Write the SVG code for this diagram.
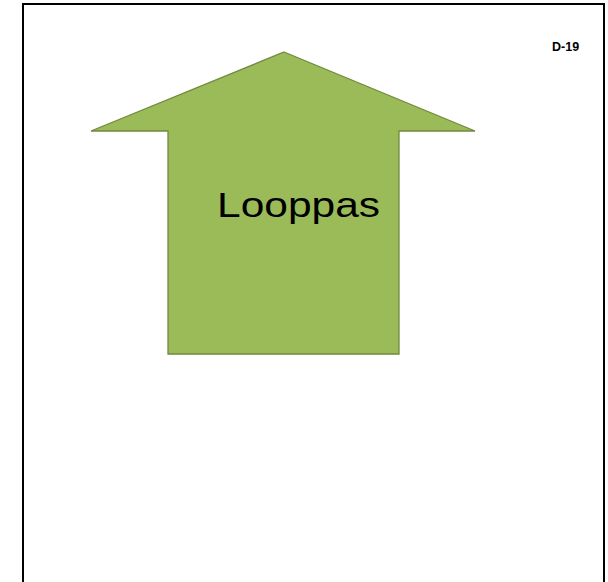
<svg xmlns="http://www.w3.org/2000/svg" width="608" height="582" viewBox="0 0 608 582">
<style>
.frame{fill:#ffffff;stroke:#000000;stroke-width:2}
.arrow{fill:#9BBB59;stroke:#71893F;stroke-width:1.3}
.lbl{font-family:"Liberation Sans",Arial,sans-serif;fill:#000000}
</style>
<rect width="608" height="582" fill="#ffffff"/>
<rect class="frame" x="23" y="4" width="581" height="584"/>
<g id="code">
<text class="lbl" x="552" y="51" font-size="12.5" font-weight="bold">D-19</text>
</g>
<g id="arrow-looppas">
<polygon class="arrow" points="284,52 475,131 399,131 399,354 168,354 168,131 91,131"/>
<text class="lbl" x="217" y="217" font-size="35" textLength="163" lengthAdjust="spacingAndGlyphs">Looppas</text>
</g>
<g id="connectors"></g>
</svg>
